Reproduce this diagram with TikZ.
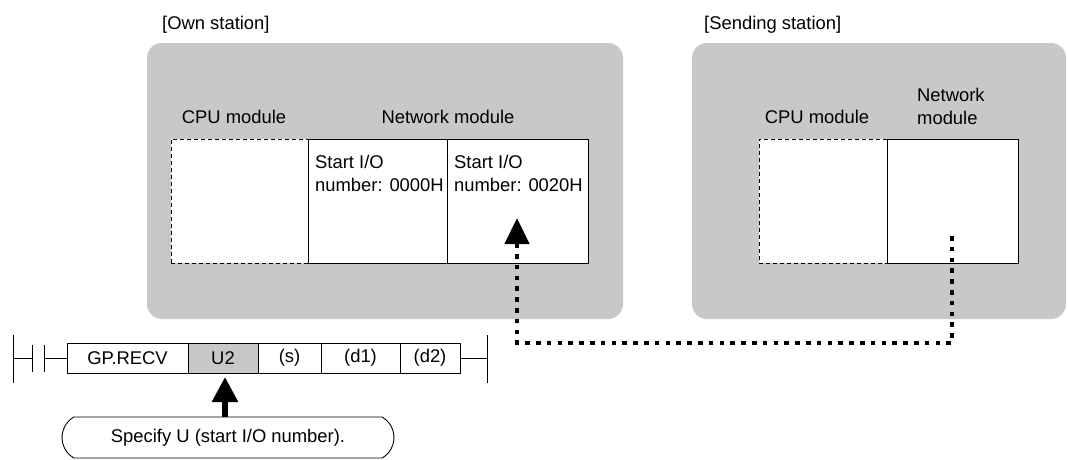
\documentclass[tikz,border=0pt]{standalone}
\usepackage{fontspec}
\setmainfont{Liberation Sans}
\usetikzlibrary{arrows.meta,shapes.misc,calc}
\definecolor{bggray}{HTML}{C7C8CA}
\begin{document}
\begin{tikzpicture}[x=1pt,y=-1pt,
  every node/.style={font=\fontsize{18.4}{23}\selectfont, inner sep=0pt},
  stationbg/.style={fill=bggray, rounded corners=15pt, minimum height=276pt},
  cpubox/.style={draw, line width=0.9pt, dash pattern=on 4pt off 3pt, fill=white, minimum width=137pt, minimum height=124pt},
  netbox/.style={draw, line width=0.9pt, fill=white, minimum height=124pt},
  cell/.style={draw, line width=0.9pt, fill=white, minimum height=30pt},
  rail/.style={line width=0.9pt},
  dotline/.style={line width=4.6pt, dash pattern=on 4.6pt off 6.2pt},
  bigtip/.style={-{Triangle[width=24pt,length=26pt]}},
  uptip/.style={line width=5.5pt, -{Triangle[width=25pt,length=25pt]}}
]
\useasboundingbox (0,0) rectangle (1068,459);

% stations
\node[stationbg, minimum width=476pt] (own) at (385,181) {};
\node[stationbg, minimum width=374pt] (snd) at (879,181) {};
\node[anchor=base west] (ownlbl) at (162,29) {[Own station]};
\node[anchor=base west] (sndlbl) at (704,29) {[Sending station]};

% own station modules
\node[cpubox] (cpu1) at (239.5,201) {};
\node[netbox, minimum width=139pt] (net1) at (377.5,201) {};
\node[netbox, minimum width=141pt] (net2) at (517.5,201) {};
\node[anchor=base] (cpu1lbl) at (234,123) {CPU module};
\node[anchor=base] (net1lbl) at (448,123) {Network module};
\node[anchor=north west, align=left] (io1) at (315,155) {Start I/O\\number: 0000H};
\node[anchor=north west, align=left] (io2) at (454,155) {Start I/O\\number: 0020H};

% sending station modules
\node[cpubox, minimum width=128pt] (cpu2) at (823,201) {};
\node[netbox, minimum width=131pt] (net3) at (952.5,201) {};
\node[anchor=base] (cpu2lbl) at (817,123) {CPU module};
\node[anchor=north west, align=left] (net3lbl) at (917,88) {Network\\module};

% connector
\coordinate (src) at (952,236);
\coordinate (bend) at (952,343);
\coordinate (dst) at (517,218);
\draw[dotline, bigtip] (src) -- (bend) -| (dst);

% ladder
\node[cell, minimum width=121pt] (c1) at (127.5,358) {GP.RECV};
\node[cell, fill=bggray, minimum width=70pt] (c2) at (223,358) {U2};
\node[cell, minimum width=63pt] (c3) at (289.5,358) {(s)};
\node[cell, minimum width=79pt] (c4) at (360.5,358) {(d1)};
\node[cell, minimum width=60pt] (c5) at (430,358) {(d2)};
\coordinate (lrail) at (13,358);
\coordinate (ca) at (32,358);
\coordinate (cb) at (44,358);
\coordinate (rrail) at (487,358);
\draw[rail] ($(lrail)+(0,-23)$) -- ($(lrail)+(0,25)$);
\draw[rail] ($(rrail)+(0,-23)$) -- ($(rrail)+(0,25)$);
\draw[rail] ($(ca)+(0,-13)$) -- ($(ca)+(0,14)$);
\draw[rail] ($(cb)+(0,-13)$) -- ($(cb)+(0,14)$);
\draw[rail] (lrail) -- (ca);
\draw[rail] (cb) -- (c1.west);
\draw[rail] (c5.east) -- (rrail);

% specify box
\node[draw, line width=0.9pt, rounded rectangle, rounded rectangle arc length=120, minimum width=332pt, minimum height=41pt] (spec) at (228,437.5) {Specify U (start I/O number).};
\coordinate (u2tip) at (225,377);
\draw[uptip] (spec.north -| u2tip) -- (u2tip);
\end{tikzpicture}
\end{document}
